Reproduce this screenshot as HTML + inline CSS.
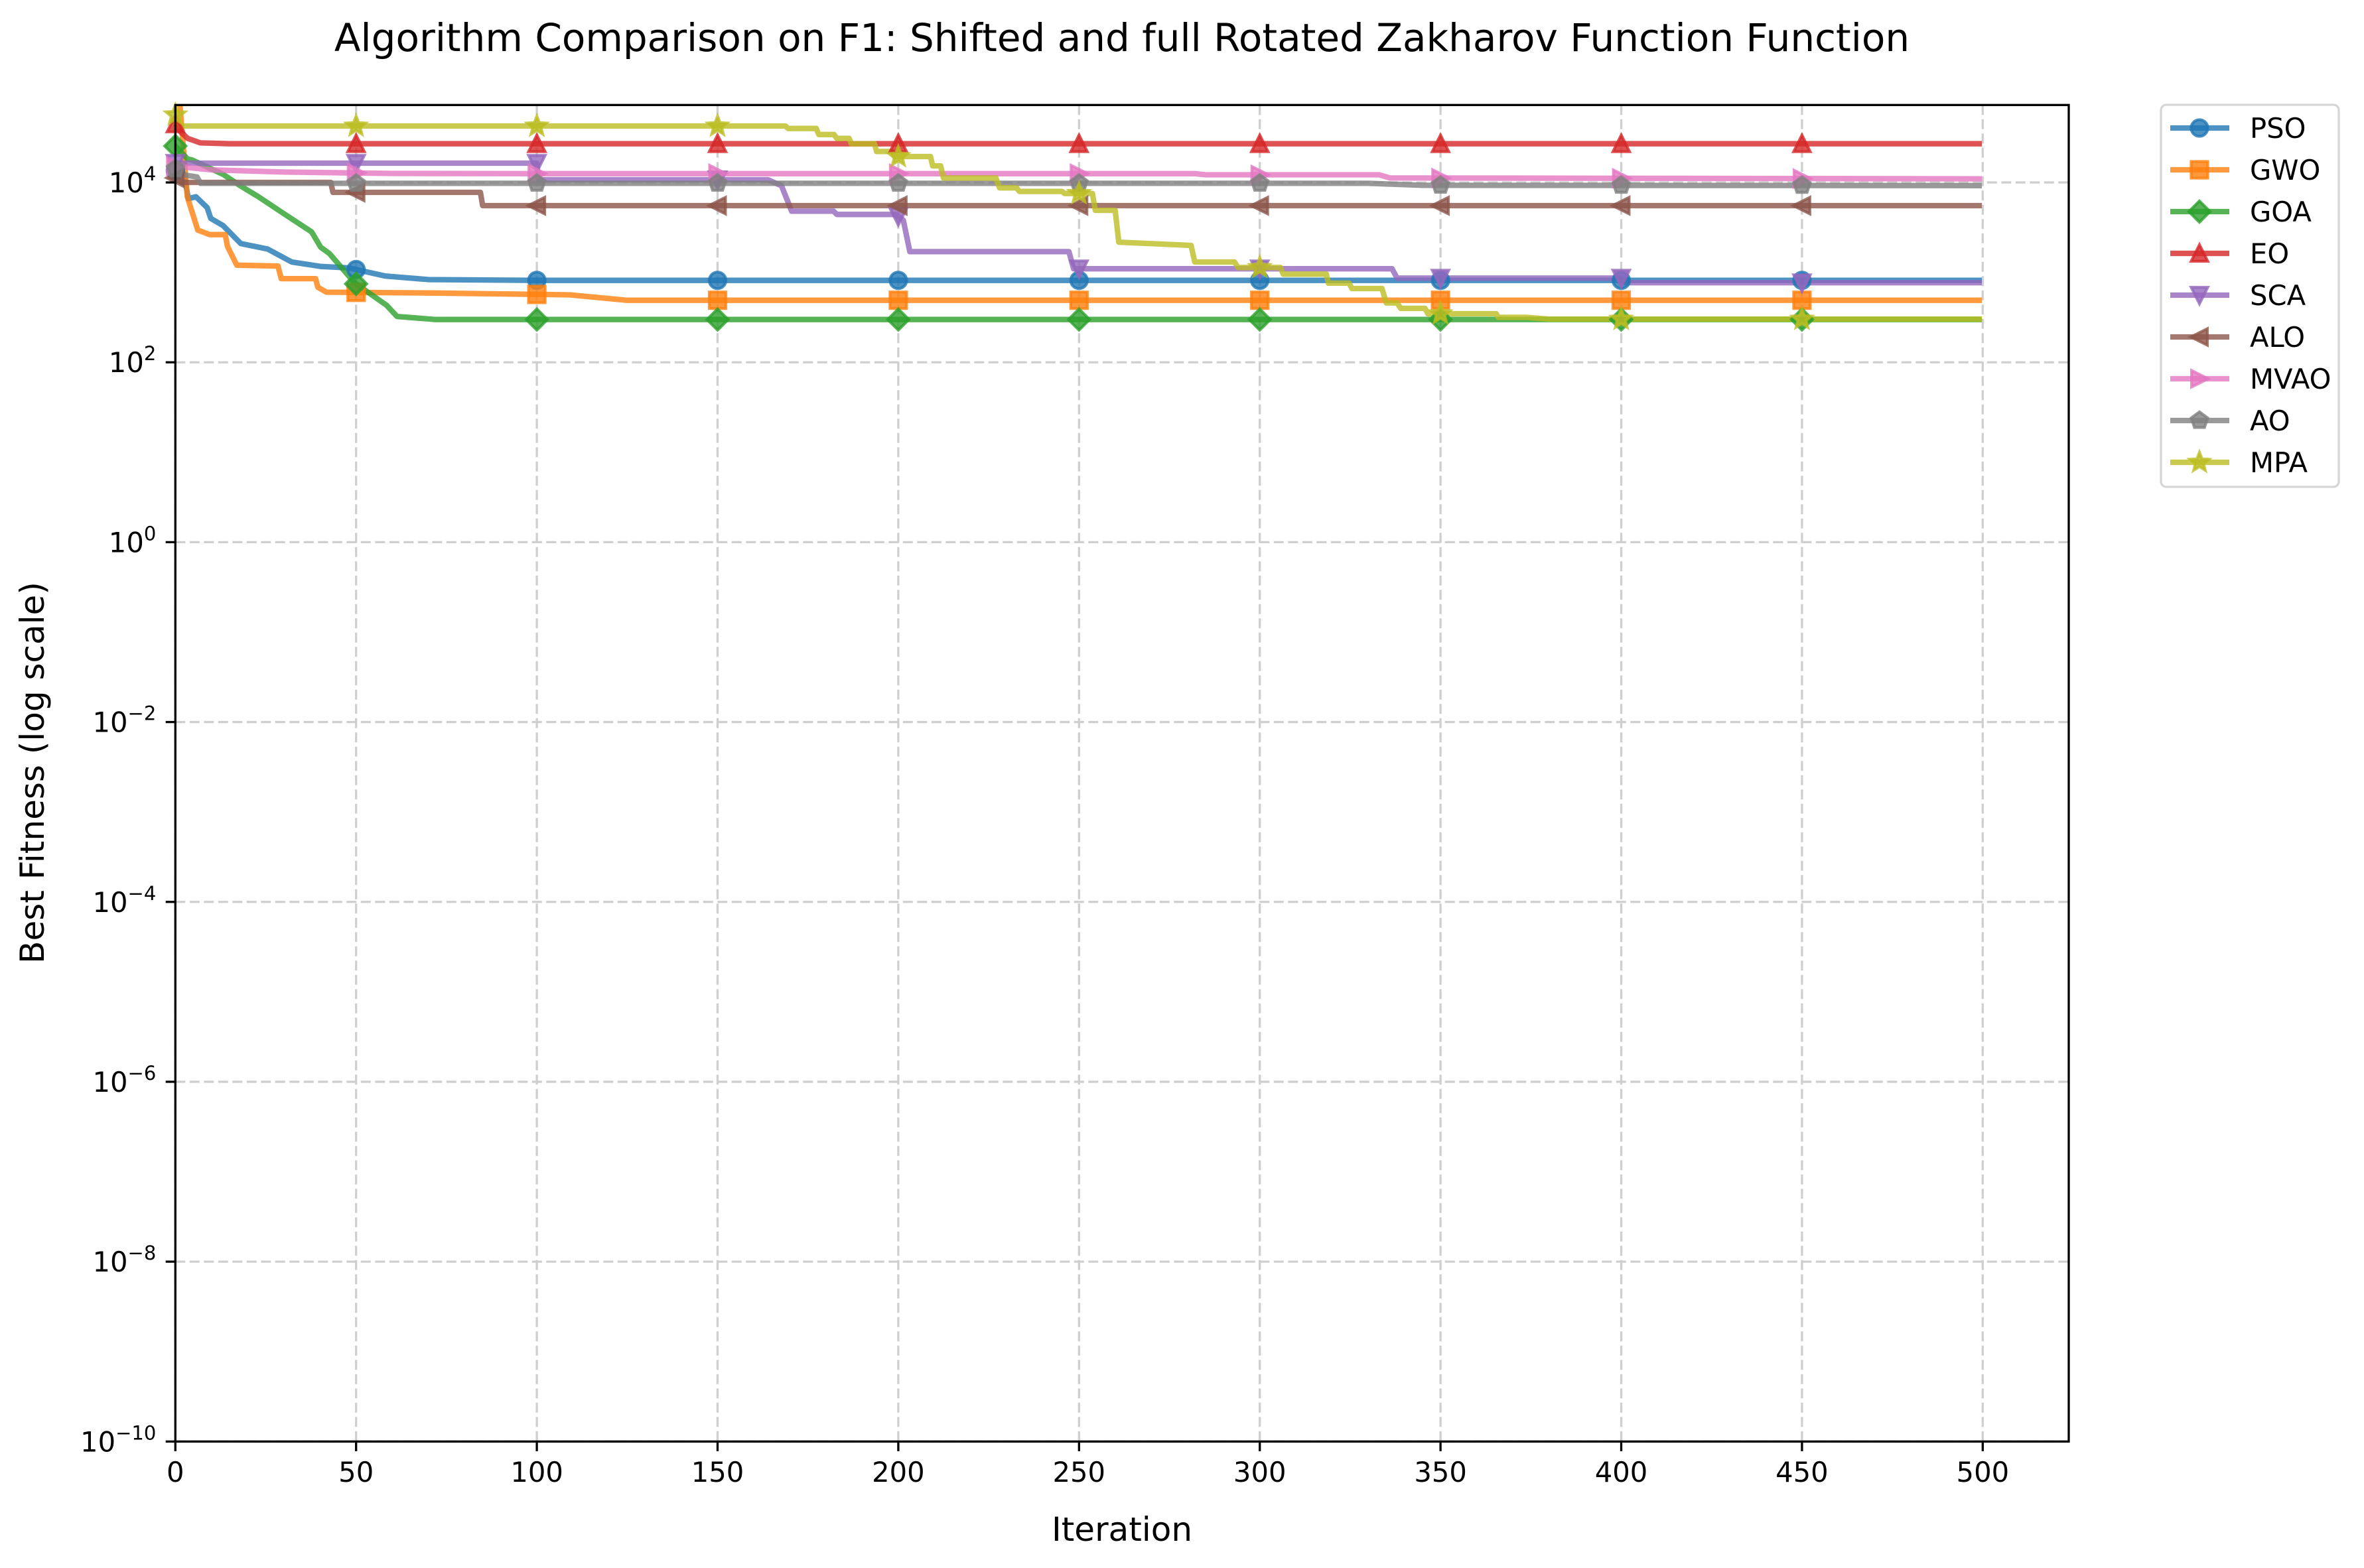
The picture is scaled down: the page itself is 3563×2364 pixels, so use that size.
<!DOCTYPE html>
<html><head><meta charset="utf-8"><style>
html,body{margin:0;padding:0;background:#fff;}
svg{display:block;font-family:"DejaVu Sans","Liberation Sans",sans-serif;}
</style></head><body>
<svg id="chart" width="3563" height="2364" viewBox="0 0 3563 2364" xmlns="http://www.w3.org/2000/svg">
<rect width="3563" height="2364" fill="#fff"/>
<text x="1691" y="77" font-size="58" text-anchor="middle" fill="#000">Algorithm Comparison on F1: Shifted and full Rotated Zakharov Function Function</text>
<text x="1691" y="2323" font-size="50" text-anchor="middle" fill="#000">Iteration</text>
<text transform="translate(66,1165) rotate(-90)" font-size="50" text-anchor="middle" fill="#000">Best Fitness (log scale)</text>
<defs><clipPath id="plotclip"><rect x="264.3" y="158.3" width="2853.7" height="2015"/></clipPath></defs>
<g id="grid"></g>
<g id="series" clip-path="url(#plotclip)"></g>
<g id="markers"></g>
<g id="axes"></g>
<g id="legend"></g>
</svg>
<script>
// ---- data (log10 of best fitness) ----
const algNames = ["PSO","GWO","GOA","EO","SCA","ALO","MVAO","AO","MPA"];
const algColors = ["#1f77b4","#ff7f0e","#2ca02c","#d62728","#9467bd","#8c564b","#e377c2","#7f7f7f","#bcbd22"];
const algMarkers = ["o","s","D","^","v","<",">","p","*"];
const xTicks = [0,50,100,150,200,250,300,350,400,450,500];
const yTickExps = [-10,-8,-6,-4,-2,0,2,4];

const psoIter = [0,2.4,3.6,5.7,8.8,9.8,13.2,18.1,25.5,32.2,40.2,48,58,70,100,499];
const psoLog10 = [4.13,4.08,3.82,3.84,3.72,3.6,3.52,3.32,3.26,3.115,3.066,3.05,2.96,2.92,2.911,2.911];
const gwoIter = [0,1,3.3,6.2,9.5,13.8,14.4,17,28.4,29.3,38.8,39.4,41.8,72,109,125,499];
const gwoLog10 = [5.5,5.0,3.84,3.47,3.42,3.42,3.29,3.08,3.07,2.93,2.93,2.835,2.78,2.77,2.75,2.69,2.69];
const goaIter = [0,3.4,4.6,13.2,18.1,23,30.3,37.7,40.2,42.6,49.7,58.4,61.3,72,499];
const goaLog10 = [4.405,4.26,4.25,4.09,3.96,3.84,3.645,3.45,3.28,3.21,2.88,2.635,2.51,2.476,2.476];
const eoIter = [0,1.5,3.4,6.9,15,499];
const eoLog10 = [4.65,4.56,4.49,4.44,4.43,4.43];
const scaIter = [0,100,100.5,164,167.7,170.5,182.1,183,199.3,201.4,203.2,247.2,248.5,336.6,338,400,401,499];
const scaLog10 = [4.214,4.214,4.03,4.03,3.963,3.68,3.68,3.644,3.644,3.58,3.23,3.23,3.04,3.04,2.936,2.936,2.885,2.885];
const aloIter = [0,2,43,43.6,84.4,85,499];
const aloLog10 = [4.05,4.0,4.0,3.89,3.89,3.742,3.742];
const mvaoIter = [0,10,30,60,100,282,285,333,336,499];
const mvaoLog10 = [4.18,4.14,4.115,4.1,4.098,4.098,4.085,4.085,4.05,4.04];
const aoIter = [0,3,6,7,330,345,499];
const aoLog10 = [4.15,4.08,4.06,3.99,3.99,3.968,3.965];
const mpaIter = [0,1,168.8,169.5,177.3,178,182.2,183,186.4,187,193.4,194,198.3,199,208.9,209.5,211.7,212.5,227,228,232.7,233.5,245.3,246,253.7,254.5,260,261,281,282,293,294,305.7,306.5,318.4,319,324.7,325.5,333.8,335,338,339,345.7,346.5,365.4,366,373.7,380,499];
const mpaLog10 = [4.75,4.627,4.627,4.60,4.60,4.533,4.533,4.49,4.49,4.43,4.43,4.344,4.344,4.288,4.288,4.184,4.184,4.05,4.05,3.94,3.94,3.90,3.90,3.877,3.877,3.69,3.69,3.336,3.3,3.115,3.115,3.054,3.054,2.98,2.98,2.88,2.88,2.82,2.82,2.66,2.66,2.6,2.6,2.54,2.54,2.50,2.50,2.48,2.48];

const seriesIters = [psoIter,gwoIter,goaIter,eoIter,scaIter,aloIter,mvaoIter,aoIter,mpaIter];
const seriesLogs = [psoLog10,gwoLog10,goaLog10,eoLog10,scaLog10,aloLog10,mvaoLog10,aoLog10,mpaLog10];

// ---- axes ----
const NS = "http://www.w3.org/2000/svg";
const L = 264.3, R = 3118, T = 158.3, B = 2173.3;
const xMin = 0, xMax = 523.8, yMinExp = -10, yMaxExp = 4.861;
function xs(v){ return L + (v - xMin) / (xMax - xMin) * (R - L); }
function ys(e){ return B - (e - yMinExp) / (yMaxExp - yMinExp) * (B - T); }
function mk(tag, attrs, parent){
  const el = document.createElementNS(NS, tag);
  for (const k in attrs) el.setAttribute(k, attrs[k]);
  parent.appendChild(el);
  return el;
}
function valueAt(iters, logs, it){
  for (let i = 0; i < iters.length - 1; i++){
    if (it >= iters[i] && it <= iters[i+1]){
      const f = (it - iters[i]) / ((iters[i+1] - iters[i]) || 1);
      return logs[i] + f * (logs[i+1] - logs[i]);
    }
  }
  return logs[logs.length - 1];
}

const grid = document.getElementById('grid');
xTicks.forEach(t => {
  const g = mk('line', {x1: xs(t), x2: xs(t), y1: T, y2: B, stroke: '#cfcfcf', 'stroke-width': 3.3, 'stroke-dasharray': '15 6.5'}, grid);
  
  
});
yTickExps.forEach(e => {
  const g = mk('line', {x1: L, x2: R, y1: ys(e), y2: ys(e), stroke: '#cfcfcf', 'stroke-width': 3.3, 'stroke-dasharray': '15 6.5'}, grid);
  
  
});

// ---- series lines ----
const seriesG = document.getElementById('series');
seriesIters.forEach((its, s) => {
  const pts = its.map((it, i) => xs(it).toFixed(1) + ',' + ys(seriesLogs[s][i]).toFixed(1)).join(' ');
  const pl = mk('polyline', {points: pts, fill: 'none', stroke: algColors[s], 'stroke-width': 8.3, 'stroke-opacity': 0.8, 'stroke-linejoin': 'round', 'stroke-linecap': 'square'}, seriesG);
  
  
});

// ---- markers ----
function markerPath(type, cx, cy){
  const r = 12.5;
  const p = (arr) => 'M' + arr.map(a => (cx + a[0]).toFixed(1) + ',' + (cy + a[1]).toFixed(1)).join('L') + 'Z';
  if (type === 's') return p([[-r,-r],[r,-r],[r,r],[-r,r]]);
  if (type === 'D') { const d = 16; return p([[0,-d],[d,0],[0,d],[-d,0]]); }
  if (type === '^') return p([[0,-r*1.05],[r,r*0.95],[-r,r*0.95]]);
  if (type === 'v') return p([[0,r*1.05],[r,-r*0.95],[-r,-r*0.95]]);
  if (type === '<') return p([[-r*1.05,0],[r*0.95,-r],[r*0.95,r]]);
  if (type === '>') return p([[r*1.05,0],[-r*0.95,-r],[-r*0.95,r]]);
  if (type === 'p') { const a = []; for (let k = 0; k < 5; k++){ const ang = -Math.PI/2 + k*2*Math.PI/5; a.push([13*Math.cos(ang), 13*Math.sin(ang)]); } return p(a); }
  if (type === '*') { const a = []; for (let k = 0; k < 10; k++){ const ang = -Math.PI/2 + k*Math.PI/5; const rr = k % 2 ? 6.5 : 15; a.push([rr*Math.cos(ang), rr*Math.sin(ang)]); } return p(a); }
  return null;
}
function drawMarker(parent, type, color, cx, cy){
  let el;
  if (type === 'o') el = mk('ellipse', {cx: cx, cy: cy, rx: 12.5, ry: 12.5}, parent);
  else el = mk('path', {d: markerPath(type, cx, cy)}, parent);
  el.setAttribute('fill', color);
  el.setAttribute('fill-opacity', 0.8);
  el.setAttribute('stroke', color);
  el.setAttribute('stroke-opacity', 0.8);
  el.setAttribute('stroke-width', 4.2);
  return el;
}
const markersG = document.getElementById('markers');
seriesIters.forEach((its, s) => {
  for (let it = 0; it < 500; it += 50){
    const e = valueAt(its, seriesLogs[s], it);
    if (e > yMaxExp) continue;
    const m = drawMarker(markersG, algMarkers[s], algColors[s], xs(it), ys(e));
    
    
  }
});

// ---- axes spines, ticks, labels ----
const axesG = document.getElementById('axes');
const frame = mk('rect', {x: L, y: T, width: R - L, height: B - T, fill: 'none', stroke: '#000', 'stroke-width': 3.3}, axesG);


xTicks.forEach(t => {
  const tk = mk('line', {x1: xs(t), x2: xs(t), y1: B, y2: B + 14.6, stroke: '#000', 'stroke-width': 3.3}, axesG);
  
  
  const lb = mk('text', {x: xs(t), y: 2234, 'font-size': 41.7, 'text-anchor': 'middle', fill: '#000'}, axesG);
  lb.textContent = String(t);
  
  
});
yTickExps.forEach(e => {
  const y = ys(e);
  const tk = mk('line', {x1: L - 14.6, x2: L, y1: y, y2: y, stroke: '#000', 'stroke-width': 3.3}, axesG);
  
  
  const lb = mk('text', {x: L - 29, y: y + 15, 'font-size': 41.7, 'text-anchor': 'end', fill: '#000'}, axesG);
  
  
  const t1 = mk('tspan', {}, lb); t1.textContent = '10';
  const t2 = mk('tspan', {dy: -18, 'font-size': 29}, lb);
  t2.textContent = (e < 0 ? '\u2212' : '') + Math.abs(e);
});

// ---- legend ----
const legG = document.getElementById('legend');
const box = mk('rect', {x: 3257, y: 158, width: 268, height: 576, rx: 8, ry: 8, fill: '#fff', 'fill-opacity': 0.8, stroke: '#d6d6d6', 'stroke-width': 3.3}, legG);


algNames.forEach((n, s) => {
  const cy = 193 + s * 63;
  const g = mk('g', {}, legG);
  
  
  mk('line', {x1: 3271, x2: 3360, y1: cy, y2: cy, stroke: algColors[s], 'stroke-width': 8.3, 'stroke-opacity': 0.8}, g);
  drawMarker(g, algMarkers[s], algColors[s], 3315, cy);
  const tx = mk('text', {x: 3391, y: cy + 15, 'font-size': 41.7, fill: '#000'}, g);
  tx.textContent = n;
});
</script>
</body></html>
